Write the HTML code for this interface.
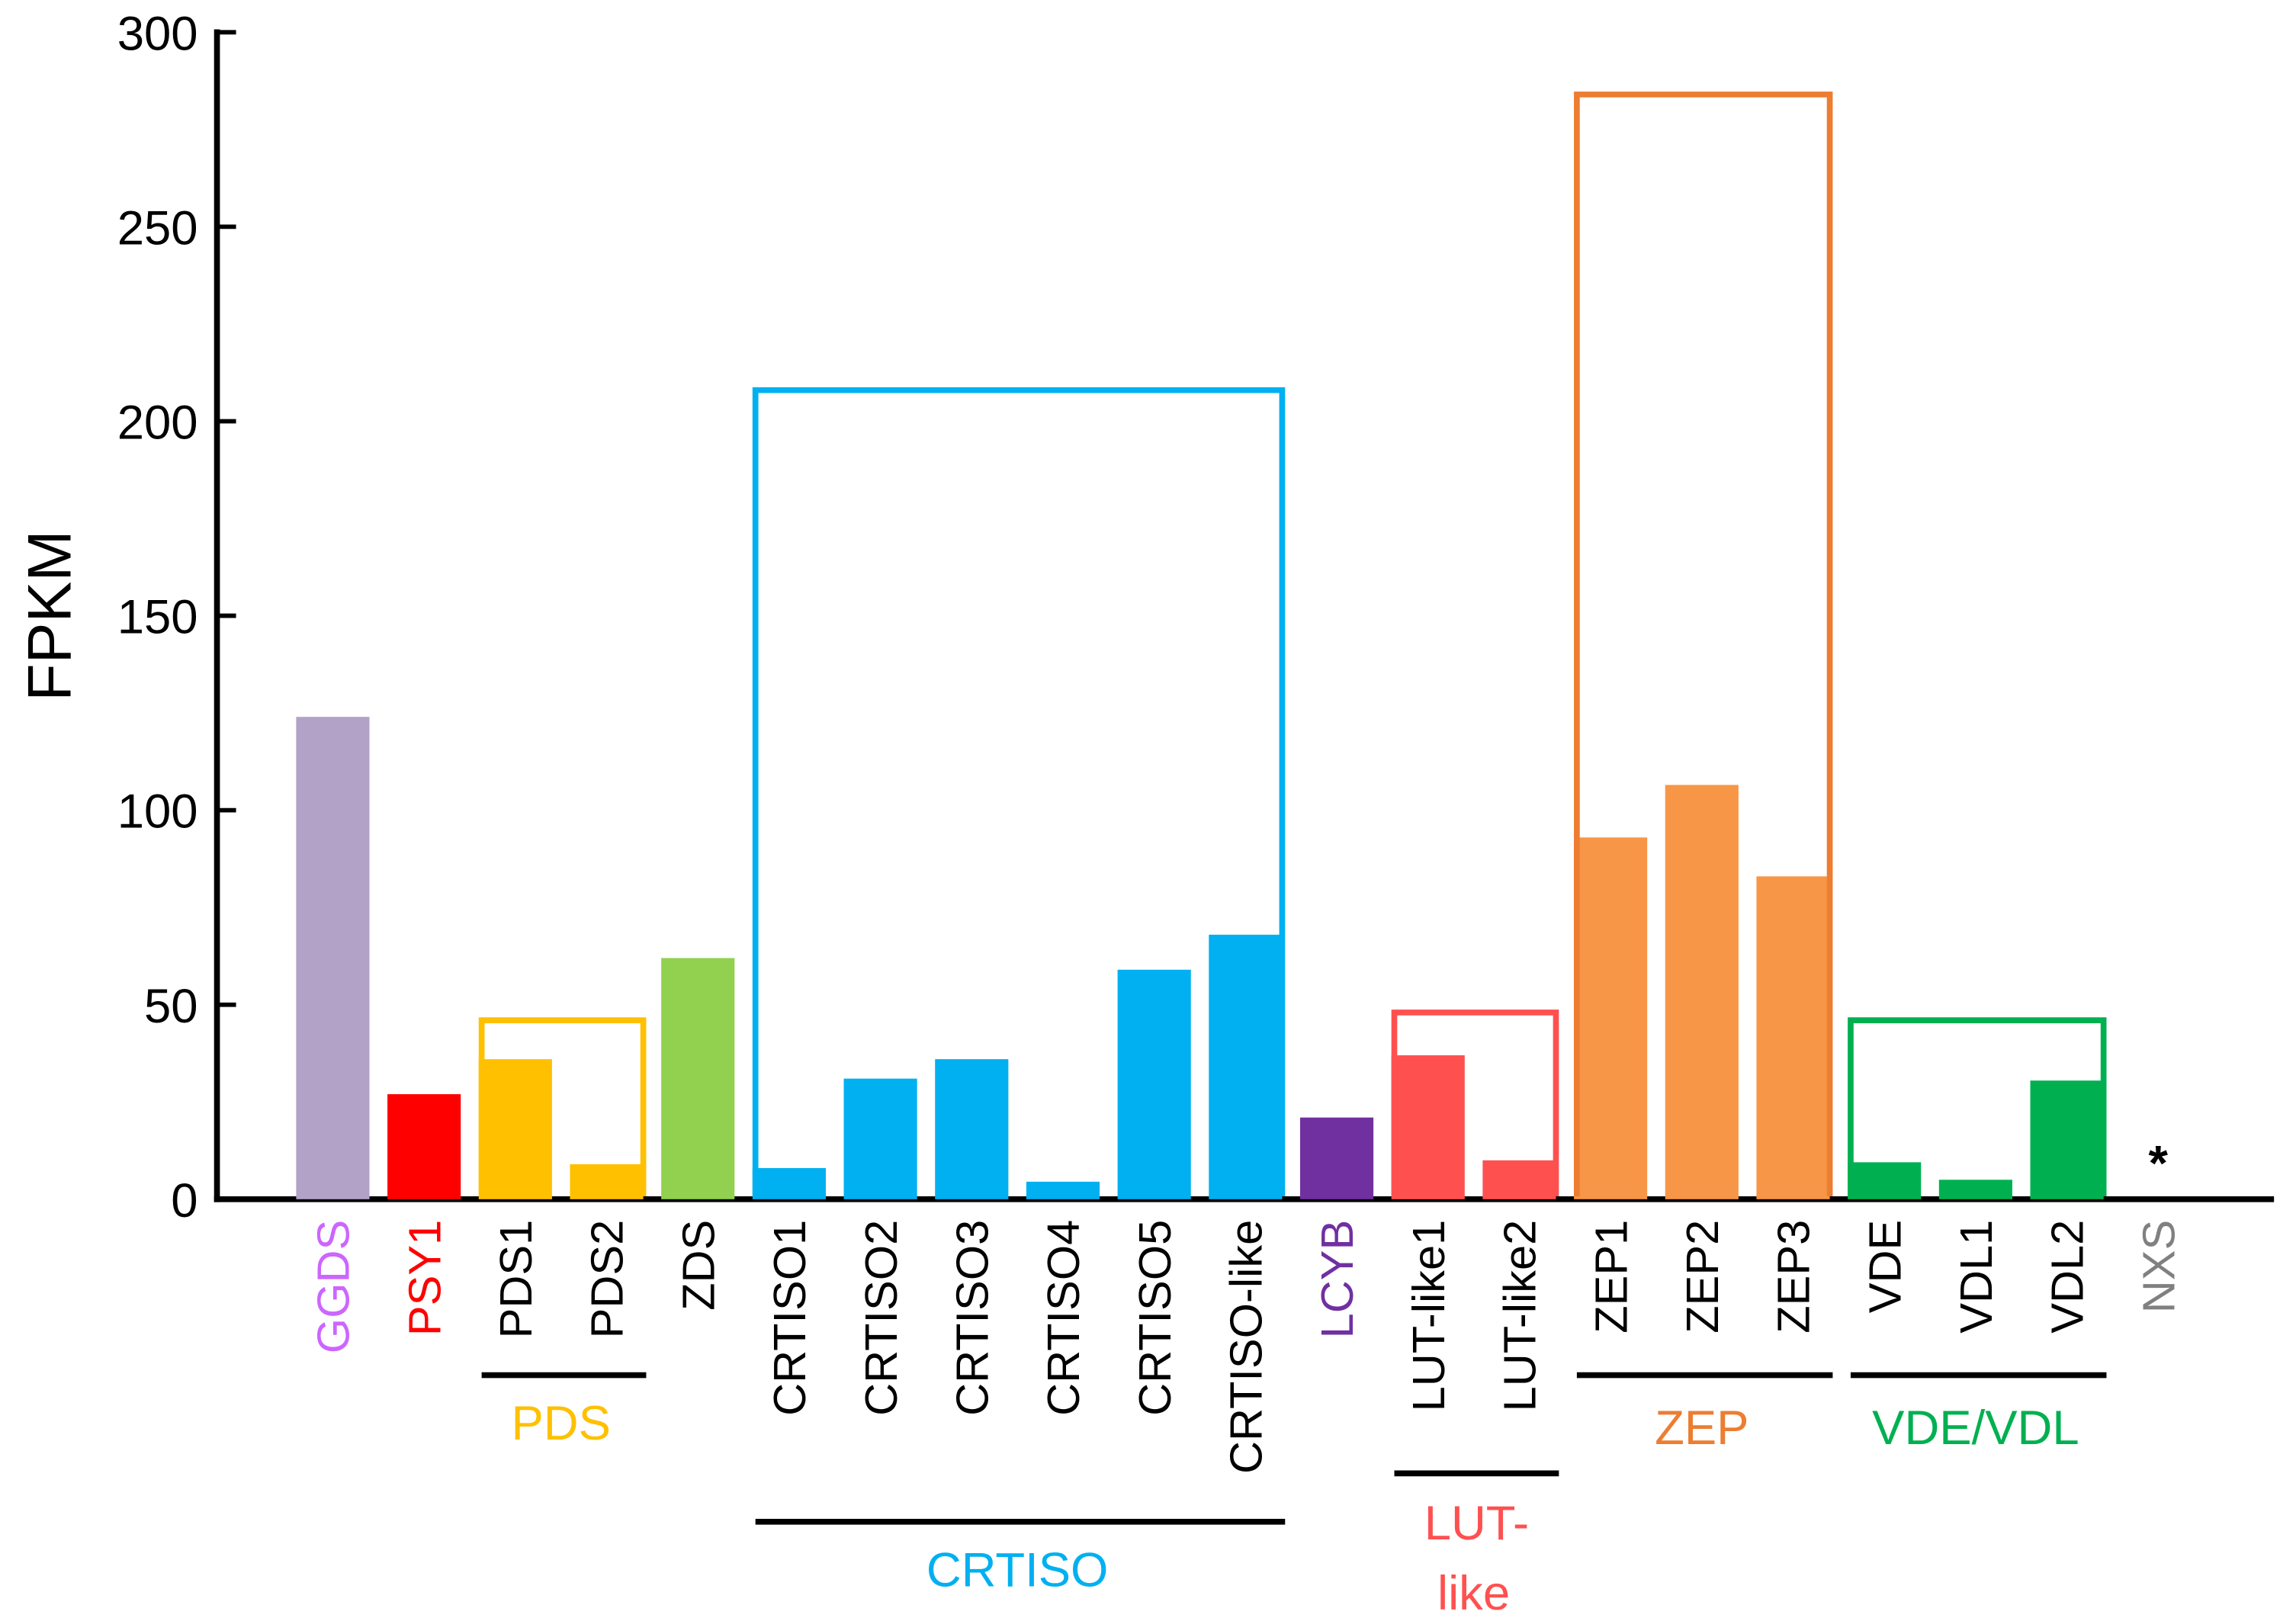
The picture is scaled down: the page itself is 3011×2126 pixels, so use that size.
<!DOCTYPE html>
<html><head><meta charset="utf-8"><style>
html,body{margin:0;padding:0;background:#fff;}
svg{display:block;}
text{font-family:"Liberation Sans",sans-serif;}
</style></head><body>
<svg id="chart" width="3011" height="2126" viewBox="0 0 1566 1105.7" xmlns="http://www.w3.org/2000/svg">
<g id="axes"></g>
<g id="bars"></g>
<g id="boxes"></g>
<g id="labels"></g>
<g id="groups"></g>
</svg>
<script>
const categories = ["GGDS","PSY1","PDS1","PDS2","ZDS","CRTISO1","CRTISO2","CRTISO3","CRTISO4","CRTISO5","CRTISO-like","LCYB","LUT-like1","LUT-like2","ZEP1","ZEP2","ZEP3","VDE","VDL1","VDL2","NXS"];
const values = [124,27,36,9,62,8,31,36,4.5,59,68,21,37,10,93,106.5,83,9.5,5,30.5,0];
const barColors = ["#b3a2c7","#ff0000","#ffc000","#ffc000","#92d050","#00b0f0","#00b0f0","#00b0f0","#00b0f0","#00b0f0","#00b0f0","#7030a0","#ff5050","#ff5050","#f79646","#f79646","#f79646","#00b050","#00b050","#00b050","#808080"];
const labelColors = ["#cc66ff","#ff0000","#000","#000","#000","#000","#000","#000","#000","#000","#000","#7030a0","#000","#000","#000","#000","#000","#000","#000","#000","#808080"];
const yTicks = [0,50,100,150,200,250,300];
const groupNames = ["PDS","CRTISO","LUT-like","ZEP","VDE/VDL"];
const groupStart = [2,5,12,14,17];
const groupEnd = [3,10,13,16,19];
const groupTotals = [46,208,48,284,46];
const groupColors = ["#ffc000","#00b0f0","#ff5050","#ed7d31","#00b050"];

const NS="http://www.w3.org/2000/svg";
const y0=818, yTop=22, vMax=300;
function yS(v){return y0-(y0-yTop)*v/vMax;}
function xC(i){return 227+62.25*i;}
const bw=50;
function mk(tag,attrs,parent){const e=document.createElementNS(NS,tag);for(const k in attrs)e.setAttribute(k,attrs[k]);parent.appendChild(e);return e;}

const axes=document.getElementById('axes');
let a=mk('line',{x1:148,y1:20,x2:148,y2:820,stroke:'#000','stroke-width':4},axes);


a=mk('line',{x1:146,y1:818,x2:1551,y2:818,stroke:'#000','stroke-width':4},axes);


yTicks.forEach(t=>{
  const y=yS(t);
  const l=mk('line',{x1:148,y1:y,x2:161,y2:y,stroke:'#000','stroke-width':3},axes);
  
  
  const tx=mk('text',{x:135,y:y+12,'text-anchor':'end','font-size':33,fill:'#000'},axes);
  tx.textContent=t;
  
  
});
const yt=mk('text',{x:0,y:0,transform:'translate(48,420) rotate(-90)','text-anchor':'middle','font-size':42,fill:'#000'},axes);
yt.textContent='FPKM';



const bars=document.getElementById('bars');
const labels=document.getElementById('labels');
categories.forEach((c,i)=>{
  if(values[i]>0){
    const r=mk('rect',{x:xC(i)-bw/2,y:yS(values[i]),width:bw,height:y0-yS(values[i]),fill:barColors[i]},bars);
    
    
  }
  const t=mk('text',{x:0,y:0,transform:`translate(${xC(i)+11},832) rotate(-90)`,'text-anchor':'end','font-size':31,fill:labelColors[i]},labels);
  t.textContent=c;
  
  
});
const star=mk('text',{x:xC(20),y:805,'text-anchor':'middle','font-size':34,'font-weight':'bold',fill:'#000'},labels);
star.textContent='*';



const boxes=document.getElementById('boxes');
const groups=document.getElementById('groups');
const lineY=[938,1038,1005,938,938];
const textY=[982,1082,1050,985,985];
groupNames.forEach((g,k)=>{
  const xl=xC(groupStart[k])-bw/2+2, xr=xC(groupEnd[k])+bw/2, yt2=yS(groupTotals[k]);
  const p=mk('path',{d:`M${xl},${y0-2} L${xl},${yt2} L${xr},${yt2} L${xr},${y0-2}`,fill:'none',stroke:groupColors[k],'stroke-width':4},boxes);
  
  
  const ln=mk('line',{x1:xC(groupStart[k])-bw/2+2,y1:lineY[k],x2:xC(groupEnd[k])+bw/2+2,y2:lineY[k],stroke:'#000','stroke-width':4},groups);
  
  
  const cx=(xC(groupStart[k])+xC(groupEnd[k]))/2;
  if(g==='LUT-like'){
    const t1=mk('text',{x:cx+2,y:textY[k],'text-anchor':'middle','font-size':33,fill:groupColors[k]},groups);
    t1.textContent='LUT-';
    
    
    const t2=mk('text',{x:cx,y:textY[k]+48,'text-anchor':'middle','font-size':33,fill:groupColors[k]},groups);
    t2.textContent='like';
    
    
  } else {
    const t=mk('text',{x:cx,y:textY[k],'text-anchor':'middle','font-size':33,fill:groupColors[k]},groups);
    t.textContent=g;
    
    
  }
});
</script>
</body></html>
